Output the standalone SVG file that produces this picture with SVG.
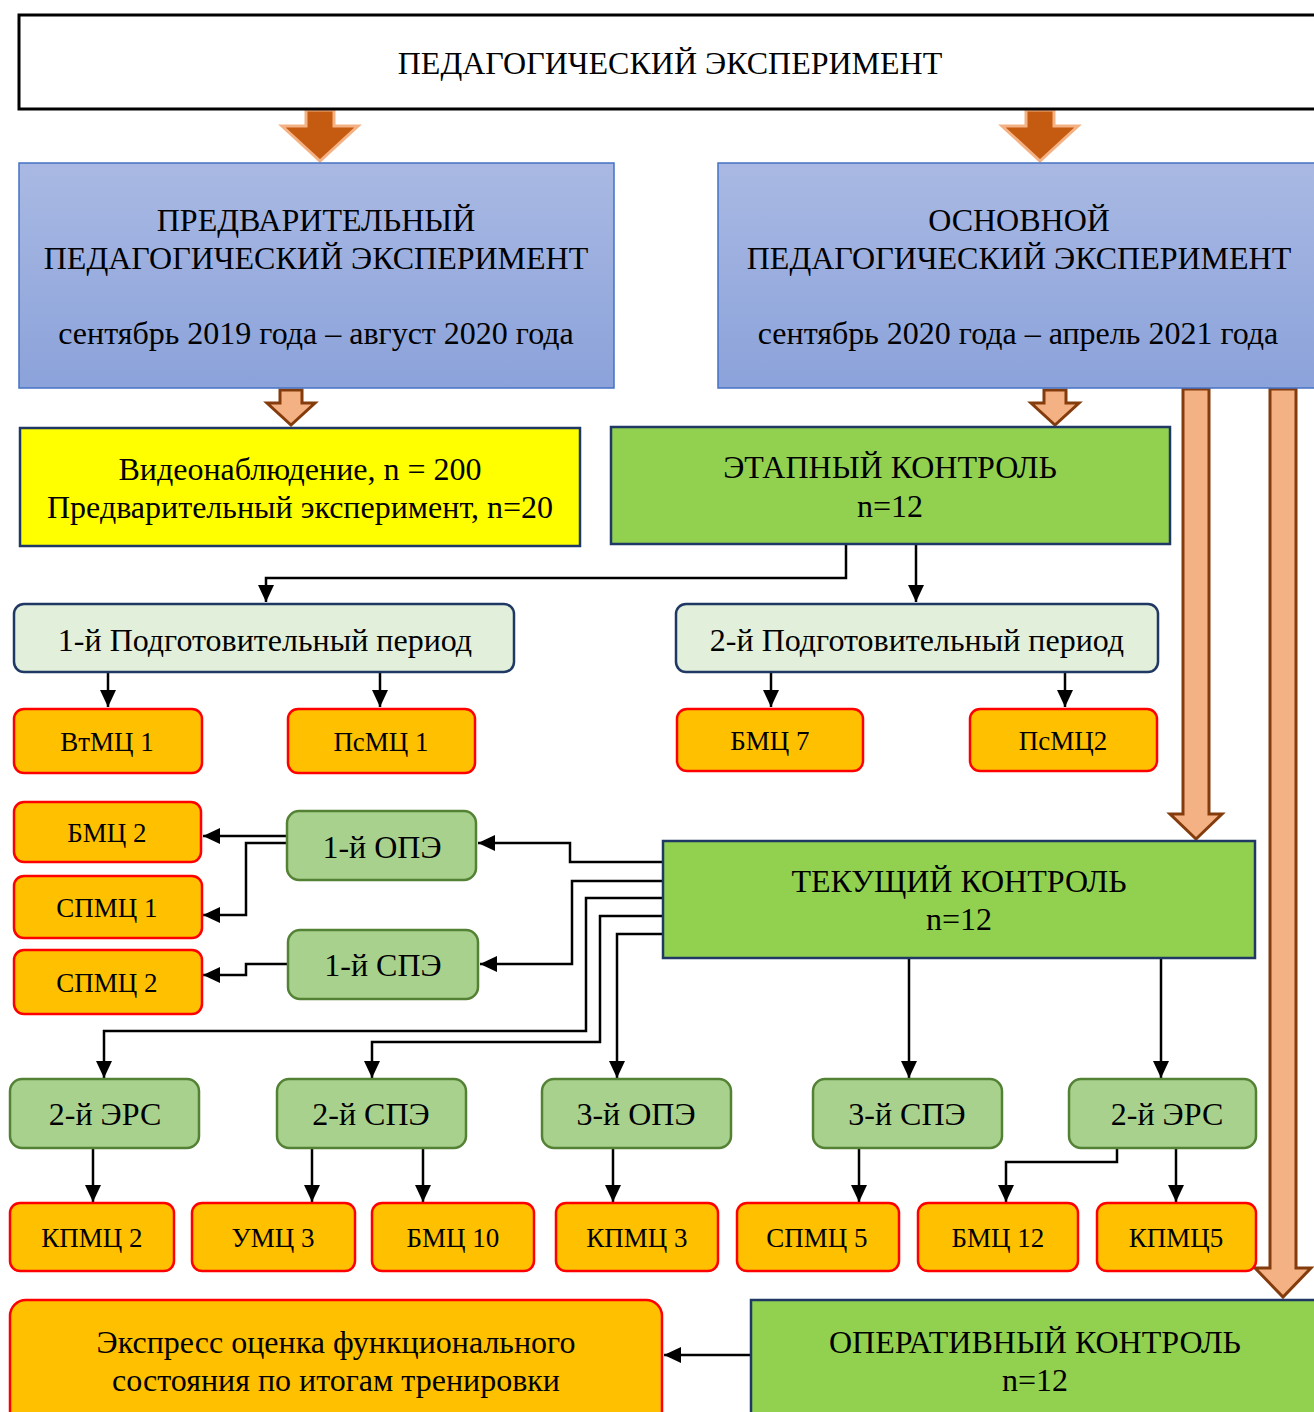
<svg xmlns="http://www.w3.org/2000/svg" width="1314" height="1412" viewBox="0 0 1314 1412">
<defs>
<linearGradient id="blueGrad" x1="0" y1="0" x2="0" y2="1">
<stop offset="0" stop-color="#A9B9E3"/>
<stop offset="1" stop-color="#8BA2DA"/>
</linearGradient>
<marker id="ah" markerUnits="userSpaceOnUse" markerWidth="18" markerHeight="16" refX="17" refY="8" orient="auto">
<path d="M0,0 L17,8 L0,16 z" fill="#000"/>
</marker>
<style>
text{font-family:"Liberation Serif","Times New Roman",serif;fill:#000;text-anchor:middle}
.t31{font-size:32px}
.t26{font-size:27px}
.top{fill:#fff;stroke:#000;stroke-width:3}
.blue{fill:url(#blueGrad);stroke:#4472C4;stroke-width:1.5}
.yel{fill:#FFFF00;stroke:#1F3864;stroke-width:2.5}
.gr{fill:#92D050;stroke:#1F3864;stroke-width:2.5}
.lgr{fill:#E2EFDA;stroke:#1F3864;stroke-width:2.5}
.mgr{fill:#A9D18E;stroke:#548235;stroke-width:2.5}
.org{fill:#FFC000;stroke:#FF0000;stroke-width:2.5}
.darr{fill:#C55A11;stroke:#F4B183;stroke-width:3}
.larr{fill:#F4B183;stroke:#843C0C;stroke-width:3}
.con{fill:none;stroke:#000;stroke-width:2.5;marker-end:url(#ah)}
.line{fill:none;stroke:#000;stroke-width:2.5}
</style>
</defs>

<g id="block-arrows">
<polygon class="darr" points="306,110 334,110 334,126 358,126 320,161 282,126 306,126"/>
<polygon class="darr" points="1026,110 1054,110 1054,126 1078,126 1040,161 1002,126 1026,126"/>
<polygon class="larr" points="280,390 302,390 302,403 315,403 291,425 267,403 280,403"/>
<polygon class="larr" points="1044,390 1066,390 1066,403 1079,403 1055,425 1031,403 1044,403"/>
<polygon class="larr" points="1183,389 1209,389 1209,814 1222,814 1196,839 1170,814 1183,814"/>
<polygon class="larr" points="1270,389 1296,389 1296,1268 1311,1268 1283,1297 1255,1268 1270,1268"/>
</g>

<g id="connectors">
<polyline class="con" points="846,545 846,578 266,578 266,602"/>
<polyline class="con" points="916,545 916,602"/>
<polyline class="con" points="108,672 108,707"/>
<polyline class="con" points="380,672 380,707"/>
<polyline class="con" points="771,672 771,707"/>
<polyline class="con" points="1065,672 1065,707"/>
<polyline class="con" points="287,836 203,836"/>
<polyline class="con" points="287,843 246,843 246,915 203,915"/>
<polyline class="con" points="288,964 246,964 246,975 203,975"/>
<polyline class="con" points="663,862 570,862 570,843 478,843"/>
<polyline class="con" points="663,881 572,881 572,964 480,964"/>
<polyline class="con" points="663,898 586,898 586,1031 104,1031 104,1078"/>
<polyline class="con" points="663,916 600,916 600,1042 372,1042 372,1078"/>
<polyline class="con" points="663,934 617,934 617,1078"/>
<polyline class="con" points="909,958 909,1078"/>
<polyline class="con" points="1161,958 1161,1078"/>
<polyline class="con" points="93,1148 93,1202"/>
<polyline class="con" points="312,1148 312,1202"/>
<polyline class="con" points="423,1148 423,1202"/>
<polyline class="con" points="613,1148 613,1202"/>
<polyline class="con" points="859,1148 859,1202"/>
<polyline class="con" points="1117,1148 1117,1162 1006,1162 1006,1202"/>
<polyline class="con" points="1176,1148 1176,1202"/>
<polyline class="con" points="751,1355 664,1355"/>
</g>

<g id="n-top">
<rect class="top" x="19" y="15" width="1310" height="94"/>
<text class="t31" x="670" y="74">ПЕДАГОГИЧЕСКИЙ ЭКСПЕРИМЕНТ</text>
</g>
<g id="n-pre">
<rect class="blue" x="19" y="163" width="595" height="225"/>
<text class="t31" x="316" y="231">ПРЕДВАРИТЕЛЬНЫЙ</text>
<text class="t31" x="316" y="269">ПЕДАГОГИЧЕСКИЙ ЭКСПЕРИМЕНТ</text>
<text class="t31" x="316" y="344">сентябрь 2019 года – август 2020 года</text>
</g>
<g id="n-main">
<rect class="blue" x="718" y="163" width="610" height="225"/>
<text class="t31" x="1019" y="231">ОСНОВНОЙ</text>
<text class="t31" x="1019" y="269">ПЕДАГОГИЧЕСКИЙ ЭКСПЕРИМЕНТ</text>
<text class="t31" x="1018" y="344">сентябрь 2020 года – апрель 2021 года</text>
</g>
<g id="n-video">
<rect class="yel" x="20" y="428" width="560" height="118"/>
<text class="t31" x="300" y="480">Видеонаблюдение, n = 200</text>
<text class="t31" x="300" y="518">Предварительный эксперимент, n=20</text>
</g>
<g id="n-stage">
<rect class="gr" x="611" y="427" width="559" height="117"/>
<text class="t31" x="890" y="478">ЭТАПНЫЙ КОНТРОЛЬ</text>
<text class="t31" x="890" y="517">n=12</text>
</g>
<g id="n-prep1">
<rect class="lgr" x="14" y="604" width="500" height="68" rx="10"/>
<text class="t31" x="265" y="651">1-й Подготовительный период</text>
</g>
<g id="n-prep2">
<rect class="lgr" x="676" y="604" width="482" height="68" rx="10"/>
<text class="t31" x="917" y="651">2-й Подготовительный период</text>
</g>
<g id="n-vtmc1"><rect class="org" x="14" y="709" width="188" height="64" rx="10"/><text class="t26" x="107" y="751">ВтМЦ 1</text></g>
<g id="n-psmc1"><rect class="org" x="288" y="709" width="187" height="64" rx="10"/><text class="t26" x="381" y="751">ПсМЦ 1</text></g>
<g id="n-bmc7"><rect class="org" x="677" y="709" width="186" height="62" rx="10"/><text class="t26" x="770" y="750">БМЦ 7</text></g>
<g id="n-psmc2"><rect class="org" x="970" y="709" width="187" height="62" rx="10"/><text class="t26" x="1063" y="750">ПсМЦ2</text></g>
<g id="n-bmc2"><rect class="org" x="14" y="802" width="187" height="60" rx="10"/><text class="t26" x="107" y="842">БМЦ 2</text></g>
<g id="n-spmc1"><rect class="org" x="14" y="876" width="188" height="62" rx="10"/><text class="t26" x="107" y="917">СПМЦ 1</text></g>
<g id="n-spmc2"><rect class="org" x="14" y="950" width="188" height="64" rx="10"/><text class="t26" x="107" y="992">СПМЦ 2</text></g>
<g id="n-ope1"><rect class="mgr" x="287" y="811" width="189" height="69" rx="12"/><text class="t31" x="382" y="858">1-й ОПЭ</text></g>
<g id="n-spe1"><rect class="mgr" x="288" y="930" width="190" height="69" rx="12"/><text class="t31" x="383" y="976">1-й СПЭ</text></g>
<g id="n-current">
<rect class="gr" x="663" y="841" width="592" height="117"/>
<text class="t31" x="959" y="892">ТЕКУЩИЙ КОНТРОЛЬ</text>
<text class="t31" x="959" y="930">n=12</text>
</g>
<g id="n-ers2a"><rect class="mgr" x="10" y="1079" width="189" height="69" rx="12"/><text class="t31" x="105" y="1125">2-й ЭРС</text></g>
<g id="n-spe2"><rect class="mgr" x="277" y="1079" width="189" height="69" rx="12"/><text class="t31" x="371" y="1125">2-й СПЭ</text></g>
<g id="n-ope3"><rect class="mgr" x="542" y="1079" width="189" height="69" rx="12"/><text class="t31" x="636" y="1125">3-й ОПЭ</text></g>
<g id="n-spe3"><rect class="mgr" x="813" y="1079" width="189" height="69" rx="12"/><text class="t31" x="907" y="1125">3-й СПЭ</text></g>
<g id="n-ers2b"><rect class="mgr" x="1069" y="1079" width="187" height="69" rx="12"/><text class="t31" x="1167" y="1125">2-й ЭРС</text></g>
<g id="n-kpmc2"><rect class="org" x="10" y="1203" width="164" height="68" rx="10"/><text class="t26" x="92" y="1247">КПМЦ 2</text></g>
<g id="n-umc3"><rect class="org" x="192" y="1203" width="163" height="68" rx="10"/><text class="t26" x="273" y="1247">УМЦ 3</text></g>
<g id="n-bmc10"><rect class="org" x="372" y="1203" width="162" height="68" rx="10"/><text class="t26" x="453" y="1247">БМЦ 10</text></g>
<g id="n-kpmc3"><rect class="org" x="556" y="1203" width="162" height="68" rx="10"/><text class="t26" x="637" y="1247">КПМЦ 3</text></g>
<g id="n-spmc5"><rect class="org" x="737" y="1203" width="162" height="68" rx="10"/><text class="t26" x="817" y="1247">СПМЦ 5</text></g>
<g id="n-bmc12"><rect class="org" x="918" y="1203" width="160" height="68" rx="10"/><text class="t26" x="998" y="1247">БМЦ 12</text></g>
<g id="n-kpmc5"><rect class="org" x="1097" y="1203" width="159" height="68" rx="10"/><text class="t26" x="1176" y="1247">КПМЦ5</text></g>
<g id="n-express">
<rect class="org" x="10" y="1300" width="652" height="130" rx="16"/>
<text class="t31" x="336" y="1353">Экспресс оценка функционального</text>
<text class="t31" x="336" y="1391">состояния по итогам тренировки</text>
</g>
<g id="n-oper">
<rect class="gr" x="751" y="1300" width="580" height="130"/>
<text class="t31" x="1035" y="1353">ОПЕРАТИВНЫЙ КОНТРОЛЬ</text>
<text class="t31" x="1035" y="1391">n=12</text>
</g>
</svg>
